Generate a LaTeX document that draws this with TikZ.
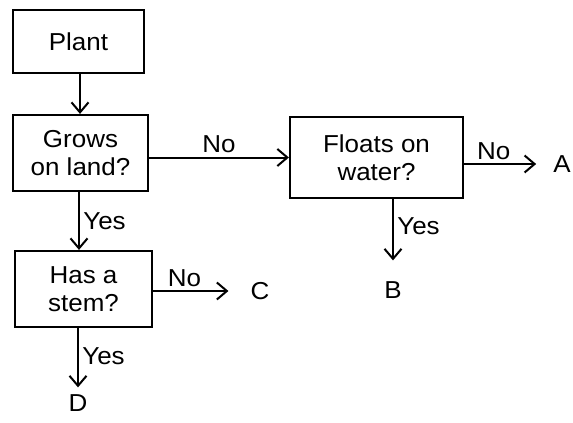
\documentclass[tikz,border=0pt]{standalone}
\usepackage{fontspec}
\setmainfont{Liberation Sans}[FakeStretch=1.06]
\usetikzlibrary{arrows.meta,positioning}

\begin{document}
\begin{tikzpicture}[x=1pt,y=-1pt,
    every node/.style={font=\fontsize{24.5}{28}\selectfont},
    box/.style={draw,line width=2.2pt,align=center,inner sep=0pt},
    leaf/.style={inner sep=2pt},
    arr/.style={line width=2pt,-{Straight Barb[length=10pt,width=17pt,line width=2pt]}}
  ]
  \useasboundingbox (0,0) rectangle (573,423);
  \node[box,minimum width=131pt,minimum height=63pt] (plant) at (78.5,41.5) {Plant};
  \node[box,minimum width=135pt,minimum height=76pt] (grows) at (80.5,153) {Grows\\on land?};
  \node[box,minimum width=173pt,minimum height=81pt] (floats) at (376.5,157.5) {Floats on\\water?};
  \node[box,minimum width=137pt,minimum height=76pt] (stem) at (83.5,289) {Has a\\stem?};
  \node[leaf] (a) at (562,164) {A};
  \node[leaf] (b) at (393,290) {B};
  \node[leaf] (c) at (260,291) {C};
  \node[leaf] (d) at (78,403) {D};
  \draw[arr] (plant.south -| 80,0) -- (grows.north -| 80,0);
  \draw[arr] (grows.east |- floats.west) -- node[above] {No} (floats.west);
  \draw[arr,shorten >=15pt] (floats.east |- a) -- node[above,pos=.34] {No} (a.west);
  \draw[arr,shorten >=19pt] (floats.south -| b) -- node[right,pos=.34] {Yes} (b.north);
  \draw[arr] (grows.south -| 79,0) -- node[right] {Yes} (stem.north -| 79,0);
  \draw[arr,shorten >=20pt] (stem.east |- c) -- node[above,pos=.33] {No} (c.west);
  \draw[arr,shorten >=5pt] (stem.south -| d) -- node[right,pos=.44] {Yes} (d.north);
\end{tikzpicture}
\end{document}
